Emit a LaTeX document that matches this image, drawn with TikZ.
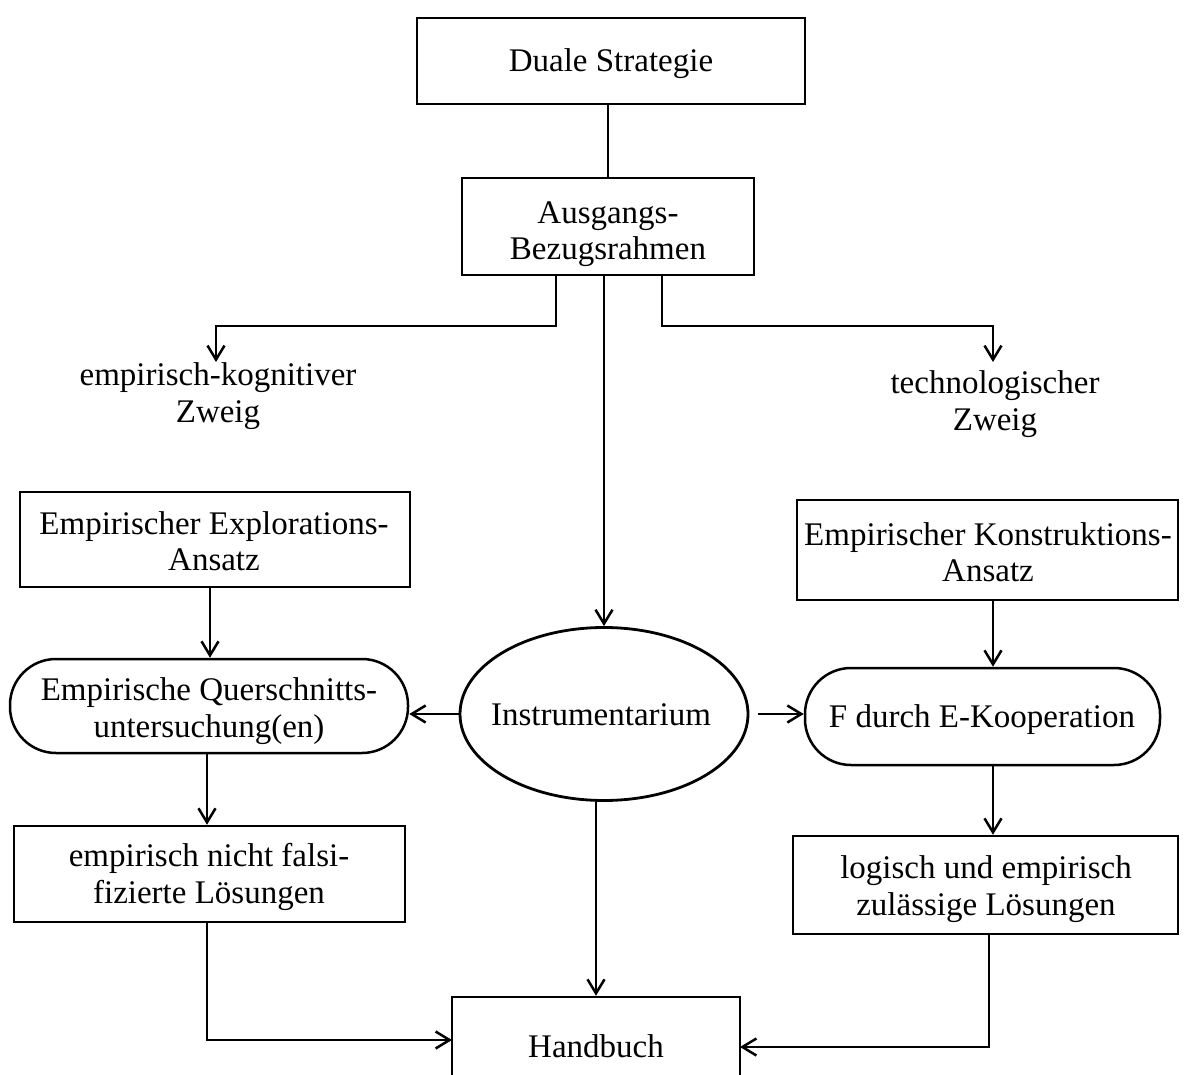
\documentclass[tikz,border=0pt]{standalone}
\usepackage{fontspec}
\setmainfont{Liberation Serif}
\usetikzlibrary{arrows.meta,shapes.geometric,calc}
\tikzset{
  every node/.style={font=\fontsize{33}{36.5}\selectfont, align=center, inner sep=0pt},
  boxnode/.style={draw, line width=2.5pt, rectangle},
  roundnode/.style={draw, line width=2.5pt, rectangle, rounded corners=46pt},
  ovalnode/.style={draw, line width=2.8pt, ellipse},
  conn/.style={line width=2.5pt},
  arr/.style={line width=2.5pt, -{Straight Barb[length=14pt,width=17pt,line width=2.5pt]}},
}
\begin{document}
\begin{tikzpicture}[x=1pt,y=-1pt]
\useasboundingbox (0,0) rectangle (1189,1075);
% frames
\node[boxnode, minimum width=388pt, minimum height=86pt] (duale) at (611,61) {};
\node[boxnode, minimum width=292pt, minimum height=97pt] (ausg) at (608,226.5) {};
\node[boxnode, minimum width=390pt, minimum height=95pt] (explo) at (215,539.5) {};
\node[roundnode, minimum width=398pt, minimum height=94pt] (quer) at (209,706) {};
\node[ovalnode, minimum width=288pt, minimum height=173pt] (instr) at (604,714) {};
\node[boxnode, minimum width=381pt, minimum height=100pt] (kons) at (987.5,550) {};
\node[roundnode, minimum width=355pt, minimum height=97pt] (fdurch) at (982.5,716.5) {};
\node[boxnode, minimum width=391pt, minimum height=96pt] (nicht) at (209.5,874) {};
\node[boxnode, minimum width=385pt, minimum height=98pt] (logisch) at (985.5,885) {};
\node[boxnode, minimum width=288pt, minimum height=90pt] (hand) at (596,1042) {};
% texts
\node (dualeT) at (611,64) {Duale Strategie};
\node (ausgT) at (608,234) {Ausgangs-\\Bezugsrahmen};
\node (ekz) at (218,396) {empirisch-kognitiver\\Zweig};
\node (tz) at (995,404) {technologischer\\Zweig};
\node (exploT) at (214,541) {Empirischer Explorations-\\Ansatz};
\node (querT) at (209,711) {Empirische Querschnitts-\\untersuchung(en)};
\node (instrT) at (601,715) {Instrumentarium};
\node (konsT) at (988,552) {Empirischer Konstruktions-\\Ansatz};
\node (fdurchT) at (982,720) {F durch E-Kooperation};
\node (nichtT) at (209,877) {empirisch nicht falsi-\\fizierte Lösungen};
\node (logischT) at (986,889) {logisch und empirisch\\zulässige Lösungen};
\node (handT) at (596,1046) {Handbuch};
% helper coordinates
\coordinate (bl) at (556,326);
\coordinate (br) at (662,326);
\coordinate (ekzin) at (216,362);
\coordinate (tzin) at (993,362);
\coordinate (lx) at (210,0);
\coordinate (rx) at (993,0);
\coordinate (nx) at (207,0);
\coordinate (hl) at (452,1040);
\coordinate (hr) at (740,1047);
\coordinate (lgx) at (989,0);
% connectors
\draw[conn] (duale.south -| ausg.north) -- (ausg.north);
\draw[arr] (ausg.south -| bl) -- (bl) -- (bl -| ekzin) -- (ekzin);
\draw[arr] (ausg.south -| br) -- (br) -- (br -| tzin) -- (tzin);
\draw[arr] (ausg.south -| instr.north) -- (instr.north);
\draw[arr] (explo.south -| lx) -- (quer.north -| lx);
\draw[arr] (instr.west) -- (quer.east |- instr.west);
\draw[arr, shorten <=9pt] (instr.east) -- (fdurch.west |- instr.east);
\draw[arr] (kons.south -| rx) -- (fdurch.north -| rx);
\draw[arr] (quer.south -| nx) -- (nicht.north -| nx);
\draw[arr] (fdurch.south -| rx) -- (logisch.north -| rx);
\draw[arr] (instr.south -| hand.north) -- (hand.north);
\draw[arr] (nicht.south -| nx) -- (nx |- hl) -- (hl);
\draw[arr] (logisch.south -| lgx) -- (lgx |- hr) -- (hr);
\end{tikzpicture}
\end{document}
